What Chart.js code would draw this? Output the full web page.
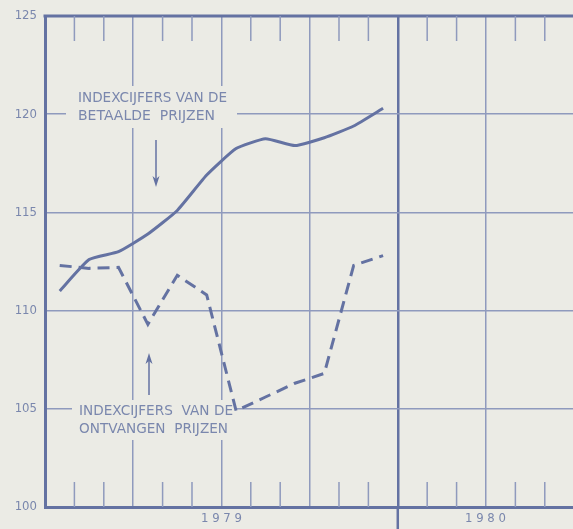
<!DOCTYPE html>
<html>
<head>
<meta charset="utf-8">
<script src="https://cdn.jsdelivr.net/npm/chart.js@4.4.0/dist/chart.umd.min.js"></script>
<style>
  body { margin:0; background:#ebebe5; }
  canvas { display:block; }
</style>
</head>
<body>
<canvas id="chart" width="573" height="529"></canvas>
<script>
// months of 1979 (points sit in the middle of each month)
const months = ['jan','feb','mrt','apr','mei','jun','jul','aug','sep','okt','nov','dec'];
// indexcijfers van de betaalde prijzen (solid)
const paidIndex = [111.0, 112.6, 113.0, 113.9, 115.1, 116.9, 118.25, 118.75, 118.4, 118.8, 119.4, 120.3];
// indexcijfers van de ontvangen prijzen (dashed)
const receivedIndex = [112.3, 112.15, 112.2, 109.3, 111.8, 110.8, 104.9, 105.6, 106.3, 106.8, 112.3, 112.8];
const years = ['1979', '1980'];
const yTicks = [100, 105, 110, 115, 120, 125];

const xMax = 17.96; // axis runs off the right edge in mid 1980
const lineColor = '#6472a2';
const gridColor = '#8f9abd';
const textColor = '#7a87ad';

function toPoints(arr){
    return arr.map(function(v, i){ return {x: i + 0.5, y: v}; });
}

// year label sits in the middle of the visible part of that year
function yearCenter(i){
    return (i * 12 + Math.min(i * 12 + 12, xMax)) / 2;
}

// annotation texts + arrows, month ticks, top border
const extras = {
    id: 'extras',
    beforeDatasetsDraw: function(chart){
        const ctx = chart.ctx;
        const a = chart.chartArea;
        const xs = chart.scales.x;
        ctx.save();
        ctx.strokeStyle = lineColor;
        // top border
        ctx.lineWidth = 3;
        ctx.beginPath();
        ctx.moveTo(a.left - 1.5, a.top);
        ctx.lineTo(a.right, a.top);
        ctx.stroke();
        // small month ticks top and bottom
        ctx.strokeStyle = gridColor;
        ctx.lineWidth = 1.5;
        for(let m = 1; m < 18; m++){
            if(m % 3 == 0) continue;
            const px = xs.getPixelForValue(m);
            ctx.beginPath();
            ctx.moveTo(px, a.top); ctx.lineTo(px, a.top + 25);
            ctx.moveTo(px, a.bottom); ctx.lineTo(px, a.bottom - 25);
            ctx.stroke();
        }
        // year boundary runs below the axis
        ctx.strokeStyle = lineColor;
        ctx.lineWidth = 2.5;
        const yb = xs.getPixelForValue(12);
        ctx.beginPath();
        ctx.moveTo(yb, a.bottom); ctx.lineTo(yb, chart.height);
        ctx.stroke();

        function label(lines, x, tops, widths, box){
            ctx.fillStyle = '#ebebe5';
            ctx.fillRect(box[0], box[1], box[2], box[3]);
            ctx.fillStyle = textColor;
            ctx.font = '13px "DejaVu Sans"';
            ctx.textBaseline = 'top';
            for(let i = 0; i < lines.length; i++){
                const w = ctx.measureText(lines[i]).width;
                ctx.save();
                ctx.translate(x, tops[i] - 2);
                ctx.scale(widths[i] / w, 1.05);
                ctx.fillText(lines[i], 0, 0);
                ctx.restore();
            }
        }
        function arrow(x, y0, y1){
            const dir = y1 > y0 ? 1 : -1;
            ctx.strokeStyle = lineColor;
            ctx.fillStyle = lineColor;
            ctx.lineWidth = 1.5;
            ctx.beginPath();
            ctx.moveTo(x, y0); ctx.lineTo(x, y1 - dir * 6);
            ctx.stroke();
            ctx.beginPath();
            ctx.moveTo(x, y1);
            ctx.lineTo(x - 3.5, y1 - dir * 11);
            ctx.lineTo(x, y1 - dir * 8);
            ctx.lineTo(x + 3.5, y1 - dir * 11);
            ctx.closePath();
            ctx.fill();
        }
        label(['INDEXCIJFERS VAN DE', 'BETAALDE  PRIJZEN'], 78, [94, 112], [149, 137], [66, 86, 171, 42]);
        arrow(156, 140, 187);
        label(['INDEXCIJFERS  VAN DE', 'ONTVANGEN  PRIJZEN'], 79, [407, 425], [154, 149], [72, 400, 163, 40]);
        arrow(149, 395, 353);
        ctx.restore();
    }
};

new Chart(document.getElementById('chart'), {
    type: 'line',
    data: {
        datasets: [{
            label: 'betaalde prijzen',
            data: toPoints(paidIndex),
            borderColor: lineColor,
            borderWidth: 3,
            pointRadius: 0,
            tension: 0.15,
            fill: false
        }, {
            label: 'ontvangen prijzen',
            data: toPoints(receivedIndex),
            borderColor: lineColor,
            borderWidth: 3,
            borderDash: [12, 7],
            pointRadius: 0,
            tension: 0,
            fill: false
        }]
    },
    options: {
        responsive: false,
        devicePixelRatio: 1,
        animation: false,
        layout: { padding: { top: 16, right: 0, bottom: 0, left: 0 } },
        plugins: { legend: { display: false }, tooltip: { enabled: false } },
        scales: {
            x: {
                type: 'linear',
                min: 0,
                max: xMax,
                afterBuildTicks: function(s){
                    const t = [0, 3, 6, 9, 12, 15];
                    years.forEach(function(y, i){ t.push(yearCenter(i) + 0.001); });
                    s.ticks = t.map(function(v){ return {value: v}; });
                },
                afterFit: function(s){ s.height = 22; },
                ticks: {
                    autoSkip: false,
                    maxRotation: 0,
                    padding: 4,
                    color: textColor,
                    font: { family: 'DejaVu Sans Condensed, DejaVu Sans', size: 13 },
                    callback: function(v){
                        for(let i = 0; i < years.length; i++){
                            if(Math.abs(v - yearCenter(i) - 0.001) < 1e-6) return years[i].split('').join(' ');
                        }
                        return '';
                    }
                },
                grid: {
                    drawTicks: false,
                    color: function(c){
                        if(!c.tick || c.tick.value == 0 || c.tick.value % 3 != 0) return 'rgba(0,0,0,0)';
                        return c.tick.value == 12 ? lineColor : gridColor;
                    },
                    lineWidth: function(c){ return c.tick && c.tick.value == 12 ? 2.5 : 1.5; }
                },
                border: { color: lineColor, width: 3 }
            },
            y: {
                min: 100,
                max: 125,
                afterBuildTicks: function(s){
                    s.ticks = yTicks.map(function(v){ return {value: v}; });
                },
                afterFit: function(s){ s.width = 45; },
                ticks: {
                    padding: 8,
                    color: textColor,
                    font: { family: 'DejaVu Sans Condensed, DejaVu Sans', size: 13 }
                },
                grid: {
                    drawTicks: false,
                    color: function(c){ return c.tick && (c.tick.value == 100 || c.tick.value == 125) ? 'rgba(0,0,0,0)' : gridColor; },
                    lineWidth: 1.5
                },
                border: { color: lineColor, width: 3 }
            }
        }
    },
    plugins: [extras]
});
</script>
</body>
</html>
